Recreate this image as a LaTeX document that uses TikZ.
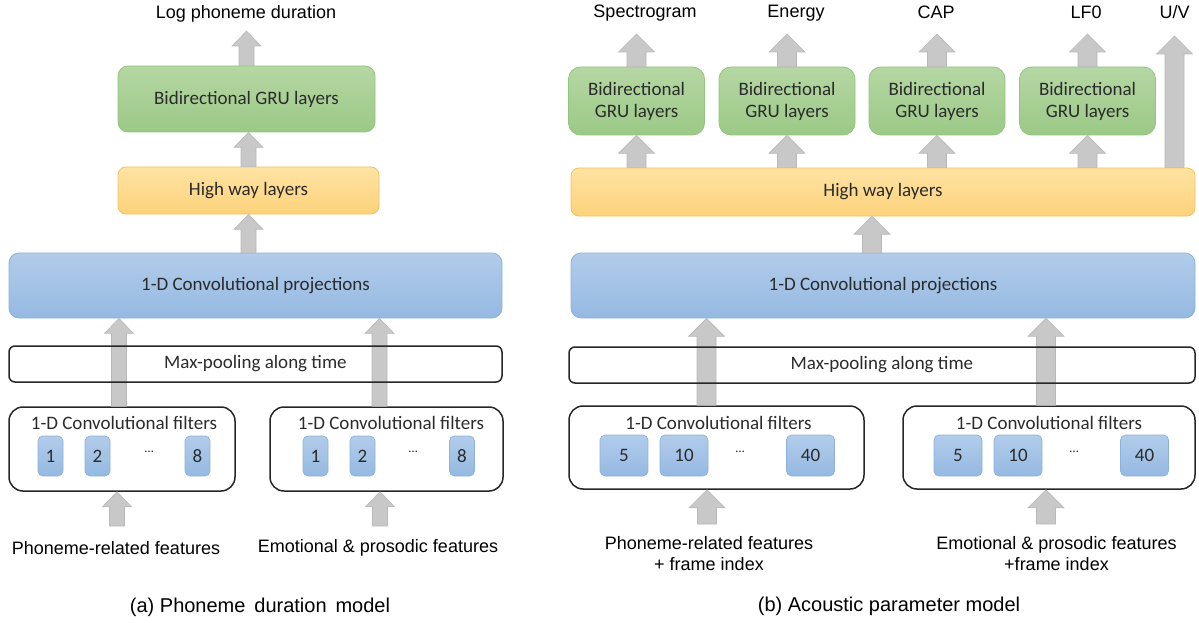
\documentclass[tikz,border=0pt]{standalone}
\usepackage{fontspec}
\setmainfont{Liberation Sans}
\newfontfamily\boxfont{Carlito}
\usetikzlibrary{calc}
\definecolor{gtop}{HTML}{B5D7A4}
\definecolor{gbot}{HTML}{9BC986}
\definecolor{gbrd}{HTML}{93C47D}
\definecolor{ytop}{HTML}{FFE3A3}
\definecolor{ybot}{HTML}{FDD27B}
\definecolor{ybrd}{HTML}{F4C25A}
\definecolor{btop}{HTML}{B2CCEA}
\definecolor{bbot}{HTML}{95B9E2}
\definecolor{bbrd}{HTML}{8DB1DB}
\definecolor{afill}{HTML}{C8C8C8}
\definecolor{abrd}{HTML}{B9B9B9}
\definecolor{txt}{HTML}{2B2B2B}
\def\ASw{7.5pt}\def\AHw{14.5pt}\def\AHl{15pt}
\newcommand\blockarrow[2]{%
  \fill[blockarr] let \p1=(#1), \p2=(#2) in
   (\x1-\ASw,\y1) -- (\x1-\ASw,\y2-\AHl) -- (\x1-\AHw,\y2-\AHl) -- (\x1,\y2)
   -- (\x1+\AHw,\y2-\AHl) -- (\x1+\ASw,\y2-\AHl) -- (\x1+\ASw,\y1) -- cycle;}
\tikzset{
  blockarr/.style={fill=afill, draw=abrd, line width=0.6pt},
  bfont/.style={font=\boxfont\fontsize{19}{22}\selectfont, text=txt},
  lbl/.style={font=\fontsize{18}{21}\selectfont, text=black, inner sep=0pt, align=center},
  captext/.style={font=\fontsize{20}{23}\selectfont, text=black, inner sep=0pt},
  grubox/.style={bfont, draw=gbrd, top color=gtop, bottom color=gbot, rounded corners=10pt, line width=0.8pt, inner sep=0pt, align=center},
  hwybox/.style={bfont, draw=ybrd, top color=ytop, bottom color=ybot, rounded corners=8pt, line width=0.8pt, inner sep=0pt},
  projbox/.style={bfont, draw=bbrd, top color=btop, bottom color=bbot, rounded corners=10pt, line width=0.8pt, inner sep=0pt},
  filtbox/.style={draw=black!85, line width=1.5pt, rounded corners=14pt, inner sep=0pt},
  poolbox/.style={bfont, draw=black!85, line width=1.5pt, rounded corners=6pt, inner sep=0pt},
  kbox/.style={bfont, draw=bbrd, top color=btop, bottom color=bbot, rounded corners=5pt, line width=0.7pt, inner sep=0pt},
  btext/.style={bfont, inner sep=0pt},
  dots/.style={font=\boxfont\fontsize{13}{15}\selectfont, text=txt, inner sep=0pt}
}
\begin{document}
\begin{tikzpicture}[x=1pt,y=-1pt]
\useasboundingbox (0,0) rectangle (1199,623);
% ---------------- left panel ----------------
\node[lbl] (lout) at (246,13.5) {Log phoneme duration};
\node[grubox, minimum width=257pt, minimum height=66pt] (lgru) at (246.5,99) {Bidirectional GRU layers};
\node[hwybox, minimum width=261pt, minimum height=47pt] (lhw) at (248.5,190.5) {High way layers};
\node[projbox, minimum width=493pt, minimum height=65pt] (lcp) at (255.5,285.5) {1-D Convolutional projections};
\node[filtbox, minimum width=226pt, minimum height=84pt] (lf1) at (122,449) {};
\node[btext] (lf1t) at (124,423) {1-D Convolutional filters};
\node[kbox, minimum width=25pt, minimum height=40pt] (lk11) at (50.5,456) {1};
\node[kbox, minimum width=25pt, minimum height=40pt] (lk12) at (97.5,456) {2};
\node[dots] (ld1) at (149,452) {…};
\node[kbox, minimum width=25pt, minimum height=40pt] (lk13) at (197.5,456) {8};
\node[filtbox, minimum width=233pt, minimum height=84pt] (lf2) at (386.5,449) {};
\node[btext] (lf2t) at (391,423) {1-D Convolutional filters};
\node[kbox, minimum width=25pt, minimum height=40pt] (lk21) at (315.5,456) {1};
\node[kbox, minimum width=25pt, minimum height=40pt] (lk22) at (362.5,456) {2};
\node[dots] (ld2) at (413,452) {…};
\node[kbox, minimum width=25pt, minimum height=40pt] (lk23) at (462,456) {8};
\node[lbl] (lin1) at (116,548.5) {Phoneme-related features};
\node[lbl] (lin2) at (378,547.5) {Emotional \& prosodic features};
\node[captext] (lcap) at (260,607) {(a) Phoneme\, duration\, model};
% left arrows
\coordinate (lt0) at (246,31);
\coordinate (lb1) at (117,526);
\coordinate (lb2) at (380,526);
\blockarrow{lgru.north}{lt0}
\blockarrow{lhw.north}{lgru.south}
\blockarrow{lcp.north -| lhw.north}{lhw.south}
\blockarrow{[xshift=-3pt]lf1.north}{lcp.south}
\blockarrow{[xshift=-7pt]lf2.north}{lcp.south}
\blockarrow{lb1}{lf1.south}
\blockarrow{lb2}{lf2.south}
\node[poolbox, minimum width=493pt, minimum height=36pt] (lmp) at (255.5,364) {Max-pooling along time};
% ---------------- right panel ----------------
\node[lbl] (ro1) at (645,13.5) {Spectrogram};
\node[lbl] (ro2) at (796,13.5) {Energy};
\node[lbl] (ro3) at (936,12.5) {CAP};
\node[lbl] (ro4) at (1086,12.5) {LF0};
\node[lbl] (ro5) at (1174.5,12.5) {U/V};
\node[grubox, minimum width=136pt, minimum height=68pt, rounded corners=12pt] (rg1) at (636.5,101) {Bidirectional\\GRU layers};
\node[grubox, minimum width=136pt, minimum height=68pt, rounded corners=12pt] (rg2) at (787,101) {Bidirectional\\GRU layers};
\node[grubox, minimum width=136pt, minimum height=68pt, rounded corners=12pt] (rg3) at (937,101) {Bidirectional\\GRU layers};
\node[grubox, minimum width=136pt, minimum height=68pt, rounded corners=12pt] (rg4) at (1087.5,101) {Bidirectional\\GRU layers};
\node[hwybox, minimum width=624pt, minimum height=48pt] (rhw) at (883,192) {High way layers};
\node[projbox, minimum width=624pt, minimum height=65pt] (rcp) at (883,285.5) {1-D Convolutional projections};
\node[filtbox, minimum width=295pt, minimum height=83pt] (rf1) at (716.5,447.5) {};
\node[btext] (rf1t) at (718.5,423) {1-D Convolutional filters};
\node[kbox, minimum width=48pt, minimum height=41pt] (rk11) at (624,455.5) {5};
\node[kbox, minimum width=48pt, minimum height=41pt] (rk12) at (684,455.5) {10};
\node[dots] (rd1) at (740,452) {…};
\node[kbox, minimum width=48pt, minimum height=41pt] (rk13) at (810.5,455.5) {40};
\node[filtbox, minimum width=292pt, minimum height=83pt] (rf2) at (1049,447.5) {};
\node[btext] (rf2t) at (1049,423) {1-D Convolutional filters};
\node[kbox, minimum width=48pt, minimum height=41pt] (rk21) at (958,455.5) {5};
\node[kbox, minimum width=48pt, minimum height=41pt] (rk22) at (1018,455.5) {10};
\node[dots] (rd2) at (1074,452) {…};
\node[kbox, minimum width=48pt, minimum height=41pt] (rk23) at (1144.5,455.5) {40};
\node[lbl] (rin1) at (709,554) {Phoneme-related features\\+ frame index};
\node[lbl] (rin2) at (1056.5,554) {Emotional \& prosodic features\\+frame index};
\node[captext] (rcap) at (889,606.5) {(b) Acoustic parameter model};
% right arrows
\def\ASw{9.5pt}\def\AHw{18pt}\def\AHl{18pt}
\coordinate (rt1) at (636,34);
\coordinate (rt2) at (786.5,34);
\coordinate (rt3) at (937,34);
\coordinate (rt4) at (1087,34);
\coordinate (rt5) at (1174.5,36);
\coordinate (rb1) at (707,524);
\coordinate (rb2) at (1046,524);
\blockarrow{rg1.north}{rt1}
\blockarrow{rg2.north}{rt2}
\blockarrow{rg3.north}{rt3}
\blockarrow{rg4.north}{rt4}
\blockarrow{rhw.north -| rt5}{rt5}
\blockarrow{rg1.south |- rhw.north}{rg1.south}
\blockarrow{rg2.south |- rhw.north}{rg2.south}
\blockarrow{rg3.south |- rhw.north}{rg3.south}
\blockarrow{rg4.south |- rhw.north}{rg4.south}
\blockarrow{[xshift=-11pt]rcp.north}{rhw.south}
\blockarrow{[xshift=-10pt]rf1.north}{rcp.south}
\blockarrow{[xshift=-3pt]rf2.north}{rcp.south}
\blockarrow{rb1}{rf1.south}
\blockarrow{rb2}{rf2.south}
\node[poolbox, minimum width=626pt, minimum height=36pt] (rmp) at (882,365) {Max-pooling along time};
\end{tikzpicture}
\end{document}
